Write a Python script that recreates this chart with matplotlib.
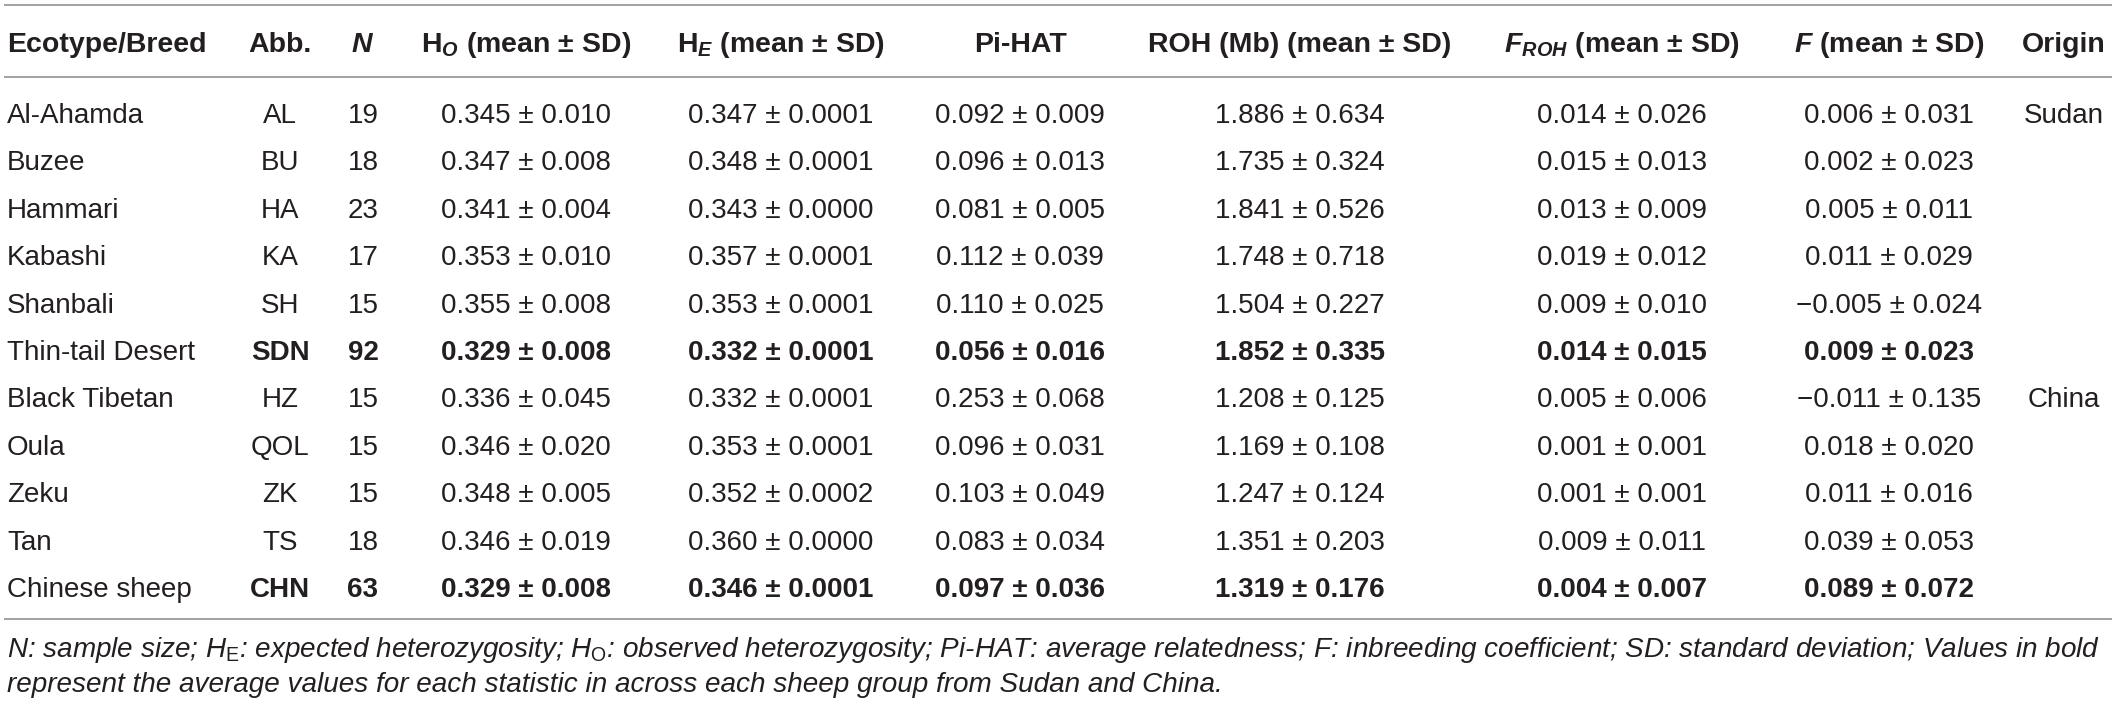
import matplotlib
matplotlib.use("Agg")
import matplotlib.pyplot as plt

plt.rcParams["font.family"] = ["Liberation Sans", "DejaVu Sans"]
plt.rcParams["mathtext.fontset"] = "custom"
plt.rcParams["mathtext.rm"] = "Liberation Sans"
plt.rcParams["mathtext.it"] = "Liberation Sans:italic"
plt.rcParams["mathtext.bf"] = "Liberation Sans:bold"
plt.rcParams["mathtext.bfit"] = "Liberation Sans:italic:bold"

# table data
breeds = ["Al-Ahamda", "Buzee", "Hammari", "Kabashi", "Shanbali", "Thin-tail Desert",
          "Black Tibetan", "Oula", "Zeku", "Tan", "Chinese sheep"]
abbs = ["AL", "BU", "HA", "KA", "SH", "SDN", "HZ", "QOL", "ZK", "TS", "CHN"]
sizes = [19, 18, 23, 17, 15, 92, 15, 15, 15, 18, 63]
ho_mean = [0.345, 0.347, 0.341, 0.353, 0.355, 0.329, 0.336, 0.346, 0.348, 0.346, 0.329]
ho_sd = [0.010, 0.008, 0.004, 0.010, 0.008, 0.008, 0.045, 0.020, 0.005, 0.019, 0.008]
he_mean = [0.347, 0.348, 0.343, 0.357, 0.353, 0.332, 0.332, 0.353, 0.352, 0.360, 0.346]
he_sd = [0.0001, 0.0001, 0.0000, 0.0001, 0.0001, 0.0001, 0.0001, 0.0001, 0.0002, 0.0000, 0.0001]
pihat_mean = [0.092, 0.096, 0.081, 0.112, 0.110, 0.056, 0.253, 0.096, 0.103, 0.083, 0.097]
pihat_sd = [0.009, 0.013, 0.005, 0.039, 0.025, 0.016, 0.068, 0.031, 0.049, 0.034, 0.036]
roh_mean = [1.886, 1.735, 1.841, 1.748, 1.504, 1.852, 1.208, 1.169, 1.247, 1.351, 1.319]
roh_sd = [0.634, 0.324, 0.526, 0.718, 0.227, 0.335, 0.125, 0.108, 0.124, 0.203, 0.176]
froh_mean = [0.014, 0.015, 0.013, 0.019, 0.009, 0.014, 0.005, 0.001, 0.001, 0.009, 0.004]
froh_sd = [0.026, 0.013, 0.009, 0.012, 0.010, 0.015, 0.006, 0.001, 0.001, 0.011, 0.007]
f_mean = [0.006, 0.002, 0.005, 0.011, -0.005, 0.009, -0.011, 0.018, 0.011, 0.039, 0.089]
f_sd = [0.031, 0.023, 0.011, 0.029, 0.024, 0.023, 0.135, 0.020, 0.016, 0.053, 0.072]
origins = ["Sudan", "", "", "", "", "", "China", "", "", "", ""]
bold_rows = [5, 10]

headers = ["Ecotype/Breed", "Abb.", r"$\mathbfit{N}$", r"H$_{\mathbfit{O}}$ (mean ± SD)",
           r"H$_{\mathbfit{E}}$ (mean ± SD)", "Pi-HAT", "ROH (Mb) (mean ± SD)",
           r"$\mathbfit{F}_{\mathbfit{ROH}}$ (mean ± SD)", r"$\mathbfit{F}$ (mean ± SD)", "Origin"]
footnote = [
    r"N: sample size; $\mathit{H}_{\mathrm{E}}$: expected heterozygosity; $\mathit{H}_{\mathrm{O}}$: "
    r"observed heterozygosity; Pi-HAT: average relatedness; F: inbreeding coefficient; "
    r"SD: standard deviation; Values in bold",
    "represent the average values for each statistic in across each sheep group from Sudan and China.",
]

W, H = 2118, 707
col_x = [7, 280, 363, 526, 781, 1020, 1300, 1622, 1889, 2064]
col_ha = ["left"] + ["center"] * 9
TXT = "#231f20"
LINE = "#a0a0a0"


def pm(m, s, d1, d2):
    return (f"{m:.{d1}f} ± {s:.{d2}f}").replace("-", "\u2212")


fig = plt.figure(figsize=(W / 100, H / 100), dpi=100)
ax = fig.add_axes([0, 0, 1, 1])
ax.set_xlim(0, W)
ax.set_ylim(H, 0)
ax.axis("off")

for y in [5, 77, 619]:
    ax.plot([4, 2112], [y, y], color=LINE, lw=1.4, solid_capstyle="butt")

for x, ha, h in zip(col_x, col_ha, headers):
    ax.text(x, 52, h, ha=ha, va="baseline", fontsize=20.5, fontweight="bold", color=TXT)

for i in range(len(breeds)):
    y = 123 + i * 47.4
    w = "bold" if i in bold_rows else "normal"
    cells = [
        str(abbs[i]), str(sizes[i]),
        pm(ho_mean[i], ho_sd[i], 3, 3),
        pm(he_mean[i], he_sd[i], 3, 4),
        pm(pihat_mean[i], pihat_sd[i], 3, 3),
        pm(roh_mean[i], roh_sd[i], 3, 3),
        pm(froh_mean[i], froh_sd[i], 3, 3),
        pm(f_mean[i], f_sd[i], 3, 3),
        origins[i],
    ]
    ax.text(col_x[0], y, breeds[i], ha="left", va="baseline", fontsize=20, color=TXT)
    for x, c in zip(col_x[1:], cells):
        ax.text(x, y, c, ha="center", va="baseline", fontsize=20, fontweight=w, color=TXT)

for k, line in enumerate(footnote):
    ax.text(7, 657 + k * 35, line, ha="left", va="baseline", fontsize=20.1,
            fontstyle="italic", color=TXT)

fig.savefig("out.png", dpi=100)
